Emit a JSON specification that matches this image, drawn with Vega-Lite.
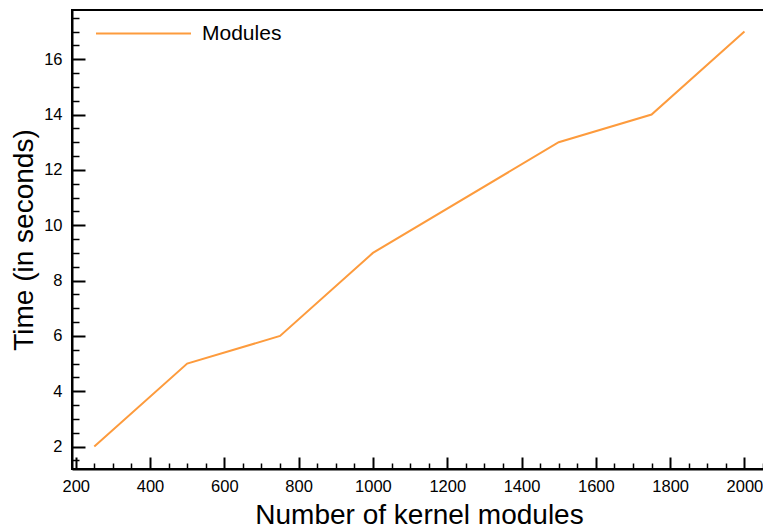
{
  "$schema": "https://vega.github.io/schema/vega-lite/v6.json",
  "autosize": "none",
  "padding": {"left": 72, "top": 10, "right": 0, "bottom": 61},
  "width": 694,
  "height": 459,
  "background": "white",
  "config": {
    "font": "Liberation Sans",
    "view": {"stroke": "black", "strokeWidth": 2}
  },
  "data": {
    "values": [
      {"modules": 250, "time": 2, "series": "Modules"},
      {"modules": 500, "time": 5, "series": "Modules"},
      {"modules": 750, "time": 6, "series": "Modules"},
      {"modules": 1000, "time": 9, "series": "Modules"},
      {"modules": 1500, "time": 13, "series": "Modules"},
      {"modules": 1750, "time": 14, "series": "Modules"},
      {"modules": 2000, "time": 17, "series": "Modules"}
    ]
  },
  "mark": {"type": "line", "strokeWidth": 2, "clip": true},
  "encoding": {
    "x": {
      "field": "modules",
      "type": "quantitative",
      "scale": {"domain": [190, 2058], "nice": false, "zero": false},
      "axis": {
        "title": "Number of kernel modules",
        "titleFont": "Liberation Sans",
        "titleFontSize": 28,
        "titleFontWeight": "normal",
        "titleColor": "black",
        "titlePadding": 1,
        "values": [200, 250, 300, 350, 400, 450, 500, 550, 600, 650, 700, 750, 800, 850, 900, 950, 1000, 1050, 1100, 1150, 1200, 1250, 1300, 1350, 1400, 1450, 1500, 1550, 1600, 1650, 1700, 1750, 1800, 1850, 1900, 1950, 2000, 2050],
        "labelExpr": "datum.value % 200 === 0 ? datum.label : ''",
        "labelOverlap": false,
        "labelFontSize": 16.5,
        "labelColor": "black",
        "labelPadding": 21,
        "format": "d",
        "grid": false,
        "domainColor": "black",
        "domainWidth": 2,
        "tickColor": "black",
        "tickWidth": {"condition": {"test": "datum.value % 200 === 0", "value": 2}, "value": 1.5},
        "tickSize": {"condition": {"test": "datum.value % 200 === 0", "value": -12}, "value": -6}
      }
    },
    "y": {
      "field": "time",
      "type": "quantitative",
      "scale": {"domain": [1.19, 17.78], "nice": false, "zero": false},
      "axis": {
        "title": "Time (in seconds)",
        "titleFont": "Liberation Sans",
        "titleFontSize": 28,
        "titleFontWeight": "normal",
        "titleColor": "black",
        "titlePadding": 5,
        "values": [1.5, 2, 2.5, 3, 3.5, 4, 4.5, 5, 5.5, 6, 6.5, 7, 7.5, 8, 8.5, 9, 9.5, 10, 10.5, 11, 11.5, 12, 12.5, 13, 13.5, 14, 14.5, 15, 15.5, 16, 16.5, 17, 17.5],
        "labelExpr": "datum.value % 2 === 0 ? format(datum.value, 'd') : ''",
        "labelOverlap": false,
        "labelFontSize": 16.5,
        "labelColor": "black",
        "labelPadding": 23,
        "grid": false,
        "domainColor": "black",
        "domainWidth": 2,
        "tickColor": "black",
        "tickWidth": {"condition": {"test": "datum.value % 2 === 0", "value": 2}, "value": 1.5},
        "tickSize": {"condition": {"test": "datum.value % 2 === 0", "value": -13}, "value": -7}
      }
    },
    "color": {
      "field": "series",
      "type": "nominal",
      "scale": {"range": ["#fd9b3d"]},
      "legend": {
        "title": null,
        "orient": "none",
        "legendX": 23,
        "legendY": -25,
        "symbolType": "stroke",
        "symbolSize": 9025,
        "symbolStrokeWidth": 2,
        "labelFontSize": 21,
        "labelColor": "black",
        "labelOffset": 10,
        "padding": 0
      }
    }
  }
}
